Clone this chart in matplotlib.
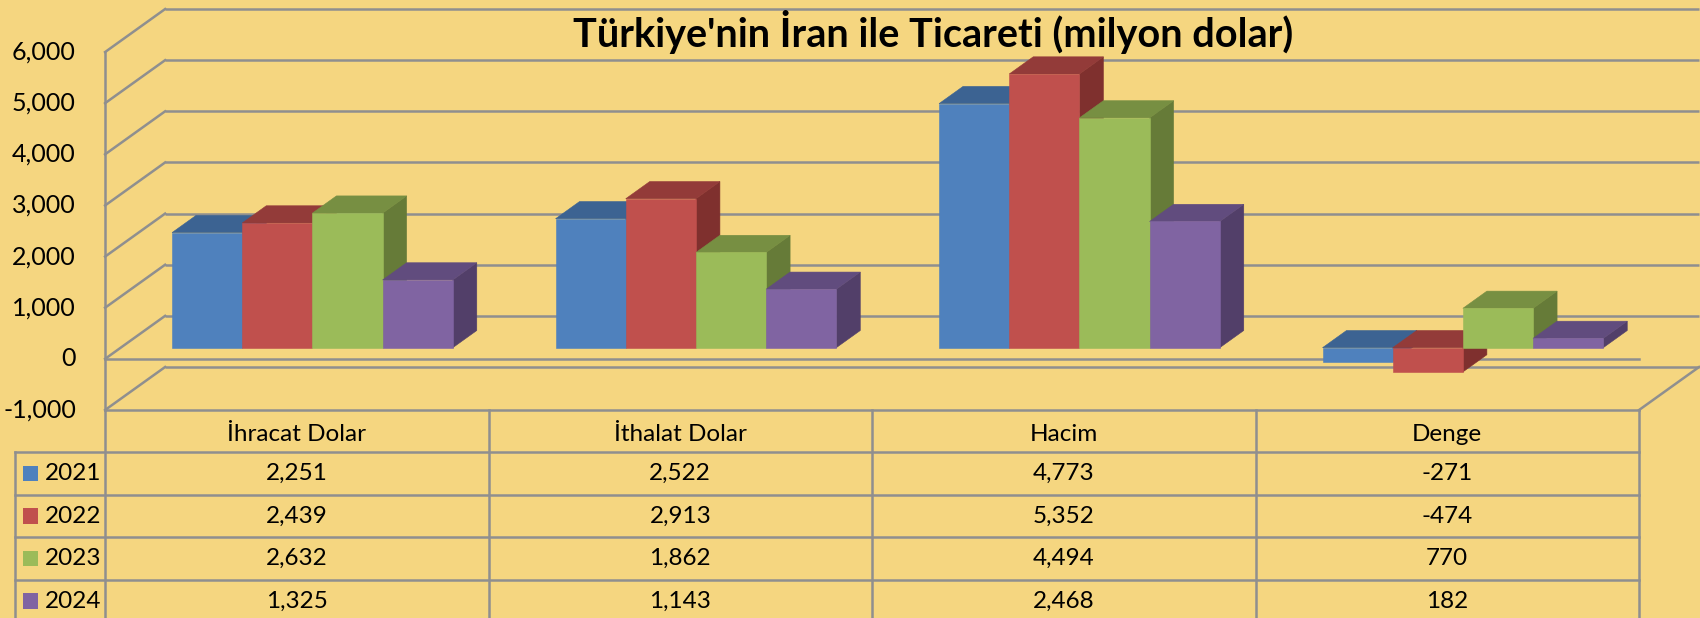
import matplotlib
matplotlib.use("Agg")
import matplotlib.pyplot as plt
from matplotlib.patches import Polygon, Rectangle

categories = ["İhracat Dolar", "İthalat Dolar", "Hacim", "Denge"]
years = ["2021", "2022", "2023", "2024"]
v2021 = [2251, 2522, 4773, -271]
v2022 = [2439, 2913, 5352, -474]
v2023 = [2632, 1862, 4494, 770]
v2024 = [1325, 1143, 2468, 182]
series = [v2021, v2022, v2023, v2024]
y_ticks = [-1000, 0, 1000, 2000, 3000, 4000, 5000, 6000]

title = "Türkiye'nin İran ile Ticareti (milyon dolar)"

bg = "#F5D680"
grid_c = "#8F8F8F"
# front, top, side
face_colors = [
    ("#4F81BD", "#3C6392", "#375B87"),  # 2021
    ("#C0504D", "#933B39", "#7F302E"),  # 2022
    ("#9BBB59", "#778F42", "#667B38"),  # 2023
    ("#8064A2", "#614C7E", "#523F69"),  # 2024
]

plt.rcParams["font.family"] = ["Lato", "DejaVu Sans"]

# 3d oblique projection (category units on x, values on y)
DX = 0.1565   # depth shift of back wall, category units
DY = 841      # depth shift of back wall, value units
BW = 0.183    # bar width
TF = 0.26     # depth of bar front face (fraction)
BD = 0.40     # bar depth (fraction)
ROW_H = 830   # table row height in value units
Y_MIN, Y_MAX = -1000, 6000

fig = plt.figure(figsize=(17, 6.18), dpi=100)
fig.patch.set_facecolor(bg)
ax = fig.add_axes([0, 0, 1, 1])
ax.set_facecolor(bg)
ax.set_xlim(-0.274, 4.159)
ax.set_ylim(-5067, 7018)
ax.axis("off")

n = len(categories)
lw = 1.8

# walls: back wall gridlines + side wall diagonals
for v in y_ticks:
    ax.plot([DX, n + DX], [v + DY, v + DY], color=grid_c, lw=lw, zorder=1, solid_capstyle="butt")
    ax.plot([0, DX], [v, v + DY], color=grid_c, lw=lw, zorder=1)
ax.plot([0, 0], [Y_MIN, Y_MAX], color=grid_c, lw=lw, zorder=1)
# floor right edge
ax.plot([n, n + DX], [Y_MIN, Y_MIN + DY], color=grid_c, lw=lw, zorder=1)
# category axis at 0 on front plane
ax.plot([0, n], [0, 0], color=grid_c, lw=lw, zorder=1)

for v in y_ticks:
    ax.text(-0.076, v, f"{v:,}", ha="right", va="center", fontsize=18, color="black")

# bars
ddx, ddy = BD * DX, BD * DY
for i in range(n):
    for j, vals in enumerate(series):
        v = vals[i]
        fc, tc, sc = face_colors[j]
        x0 = i + 0.5 - 2 * BW + j * BW + TF * DX
        x1 = x0 + BW
        lo = min(0, v) + TF * DY
        hi = max(0, v) + TF * DY
        side = [(x1, lo), (x1 + ddx, lo + ddy), (x1 + ddx, hi + ddy), (x1, hi)]
        top = [(x0, hi), (x1, hi), (x1 + ddx, hi + ddy), (x0 + ddx, hi + ddy)]
        front = [(x0, lo), (x1, lo), (x1, hi), (x0, hi)]
        for poly, col in ((side, sc), (top, tc), (front, fc)):
            ax.add_patch(Polygon(poly, closed=True, facecolor=col, edgecolor=col,
                                 lw=0.4, zorder=3))

# data table
tbl_left = -0.235
y_top = Y_MIN
y_hdr = Y_MIN - ROW_H
y_bot = -5067
ax.plot([0, n], [y_top, y_top], color=grid_c, lw=lw, zorder=4)
for k in range(len(years)):
    yy = y_hdr - k * ROW_H
    ax.plot([tbl_left, n], [yy, yy], color=grid_c, lw=lw, zorder=4)
for i in range(n + 1):
    ax.plot([i, i], [y_top, y_bot], color=grid_c, lw=lw, zorder=4)
ax.plot([tbl_left, tbl_left], [y_hdr, y_bot], color=grid_c, lw=lw, zorder=4)

for i, cat in enumerate(categories):
    ax.text(i + 0.5, y_top - ROW_H * 0.58, cat, ha="center", va="center", fontsize=17.5)

for j, (yr, vals) in enumerate(zip(years, series)):
    yc = y_hdr - (j + 0.5) * ROW_H
    ax.add_patch(Rectangle((-0.214, yc - 150), 0.039, 300, facecolor=face_colors[j][0],
                           edgecolor="none", zorder=5))
    ax.text(-0.157, yc, yr, ha="left", va="center", fontsize=17.5)
    for i, v in enumerate(vals):
        ax.text(i + 0.5, yc, f"{v:,}", ha="center", va="center", fontsize=17.5)

fig.text(933 / 1700, 1 - 32 / 618, title, ha="center", va="center",
         fontsize=28.5, fontweight="bold")

fig.savefig("out.png", dpi=100, facecolor=bg)
